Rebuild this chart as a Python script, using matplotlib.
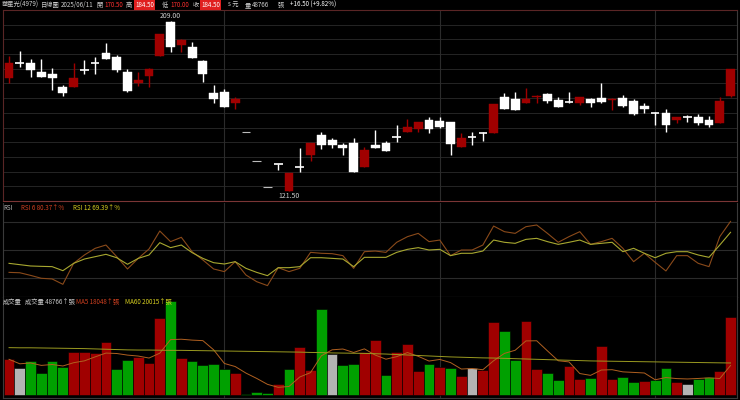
import numpy as np
import matplotlib
matplotlib.use("Agg")
import matplotlib.pyplot as plt

plt.rcParams['font.family'] = ['Noto Sans CJK TC', 'DejaVu Sans']

opens = [179.7,187.4,187.4,182.7,181.7,175.0,175.0,183.8,187.4,192.5,190.5,182.7,177.1,180.7,191.0,208.5,196.6,195.6,188.4,171.9,172.5,166.8,
         151.9,136.9,123.6,135.4,121.5,133.9,140.0,150.3,147.7,145.2,146.2,133.9,145.2,146.2,149.3,151.9,153.4,158.0,157.5,157.0,144.1,149.3,151.4,
         151.4,169.9,168.9,166.8,169.9,171.4,168.3,167.3,166.8,168.9,169.4,168.3,169.4,167.8,165.3,161.6,161.6,158.1,159.6,159.6,158.0,156.5,170.5]
highs = [191.0,193.6,189.4,189.4,184.8,176.1,187.4,188.9,190.5,197.7,191.5,184.3,182.7,184.8,202.3,209.0,199.7,198.2,188.9,176.1,174.0,169.9,
         151.9,136.9,123.6,135.4,130.8,143.6,146.2,151.9,148.8,146.2,148.8,144.1,152.9,147.2,155.5,158.6,157.0,159.6,159.6,157.0,151.4,151.9,151.9,
         166.3,171.9,172.5,174.5,170.9,171.9,169.9,172.5,169.9,169.4,177.1,169.4,170.9,168.9,166.8,162.2,163.7,159.6,160.6,161.1,160.1,169.9,184.5]
lows = [177.1,185.3,180.2,180.2,173.5,170.4,175.0,181.7,181.7,189.4,182.7,172.5,175.5,175.0,191.0,193.0,193.0,190.0,177.6,166.8,164.7,163.7,
        151.9,136.9,123.6,132.3,121.5,131.3,136.9,143.1,143.6,140.0,131.3,133.9,143.6,142.1,146.7,151.9,151.9,151.4,153.9,140.0,144.1,145.2,147.0,
        151.4,163.7,163.2,166.8,166.8,166.8,164.7,166.8,165.8,164.7,166.8,163.2,164.7,160.6,161.6,155.5,151.9,156.5,157.0,155.5,154.4,156.5,170.0]
closes = [187.4,187.4,183.8,180.2,179.7,171.9,179.7,183.8,187.4,189.4,183.8,173.0,178.6,184.3,202.3,195.6,199.2,190.0,181.7,168.9,164.7,168.9,
          151.9,136.9,123.6,135.4,130.8,133.9,146.2,145.2,145.2,143.6,131.3,142.6,143.6,142.1,149.3,154.4,157.0,153.4,154.4,145.7,148.8,149.3,151.4,
          166.3,163.7,163.2,168.9,170.4,167.8,164.7,167.3,169.9,166.8,167.3,168.9,165.3,161.1,163.7,161.6,155.5,159.6,159.6,156.5,155.5,168.0,184.5]
volumes = [22300,16700,21100,13900,21300,17700,26900,26900,26400,33100,16400,21900,23900,20200,48300,58800,23100,21100,18600,19600,16100,13600,
           600,1900,1100,6700,16400,30200,15600,53600,25400,18900,19400,26900,34200,12500,26900,32100,15200,19400,17500,17100,11900,16900,15600,
           45600,40000,21700,46100,16100,13900,9200,18100,9800,10400,30600,10200,11300,8100,8600,9400,17100,8100,6900,10200,11300,15000,48766]
vol_dir = "RNGGGGRRRRGGRRRGRGGGGRGGGRGRRGNGGRRGRRRGRGRNRRGGRRGGRRGRRGGRGGRNGGRR"
ma60 = [29600,29500,29500,29400,29300,29200,29100,29000,28800,28600,28400,28200,28100,28100,28000,27900,27900,27800,27700,27600,27500,27400,
        27300,27200,27100,27000,26900,26800,26600,26500,26300,26200,26100,26000,25800,25600,25300,25000,24700,24400,24100,23800,23600,23400,23200,
        23100,22900,22700,22500,22300,22100,21900,21700,21500,21300,21200,21100,21000,20900,20800,20700,20600,20500,20400,20300,20200,20100,20015]
rsi6 = [26.2,25.8,23.0,19.9,19.2,13.5,35.8,44.7,51.8,55.3,42.9,29.8,41.1,51.1,70.2,58.9,63.5,48.2,39.4,29.8,27.0,37.6,23.4,16.3,12.1,31.2,27.0,
        30.5,47.5,46.5,46.1,44.0,30.5,48.2,48.9,47.5,58.2,64.2,67.7,58.9,60.6,44.0,50.0,50.0,55.3,75.5,69.5,67.7,74.8,76.6,67.7,58.2,64.2,69.5,
        56.0,58.9,62.4,51.8,37.6,46.5,36.9,27.7,44.0,44.0,35.8,32.3,64.2,80.4]
rsi12 = [35.8,34.4,33.0,32.6,32.3,28.0,35.8,40.4,42.9,45.4,41.8,34.8,41.1,44.7,57.8,52.5,55.3,47.2,41.1,36.5,35.1,37.6,30.5,26.2,22.7,31.2,31.2,
         32.3,41.8,41.8,41.1,40.4,32.3,42.2,42.2,42.2,47.5,50.7,52.5,50.0,50.7,44.0,46.5,46.5,48.9,60.6,58.2,57.1,61.3,62.4,58.9,56.0,58.2,60.6,
         56.0,57.1,58.2,48.2,51.8,46.5,41.8,46.5,48.2,48.2,44.7,42.2,55.3,68.8]

n = len(closes)
x = np.arange(n)
RED = '#a00000'
GRN = '#00a000'
GRID = '#2b2b2b'
FS = 4.5

fig = plt.figure(figsize=(7.4, 4.0), dpi=100, facecolor='black')
L, W = 3/740, 734/740
axp = fig.add_axes([L, 199/400, W, 191/400])
axr = fig.add_axes([L, 103/400, W, 94/400])
axv = fig.add_axes([L, 2/400, W, 101/400])
for ax in (axp, axr, axv):
    ax.set_facecolor('black')
    ax.set_xlim(-0.56, 67.6)
    ax.set_xticks([]); ax.set_yticks([])
    for s in ax.spines.values():
        s.set_color('#3a3a3a'); s.set_linewidth(0.8)
    for v in (20, 40, 60):
        ax.axvline(v, color=GRID, lw=0.8, zorder=0)
axp.spines['top'].set_color('#5a2525')
axp.spines['bottom'].set_color('#7a3535')
axp.spines['left'].set_color('#5a2525')
axr.spines['top'].set_visible(False)
axr.spines['bottom'].set_color('#666666')
axv.spines['top'].set_visible(False)

# price panel
axp.set_ylim(116.35, 214.7)
for g in np.linspace(116.35, 214.7, 14)[1:-1]:
    axp.axhline(g, color=GRID, lw=0.6, zorder=0)
for i in range(n):
    o, h, l, c = opens[i], highs[i], lows[i], closes[i]
    if h == l:
        axp.hlines(c, i-0.4, i+0.4, color='#bbbbbb', lw=0.8)
        continue
    col = RED if c > o else 'white'
    axp.vlines(i, l, h, color=col, lw=1.0, zorder=2)
    if abs(c - o) < 0.3:
        axp.hlines(c, i-0.4, i+0.4, color=col, lw=1.2, zorder=3)
    else:
        axp.bar(i, abs(c-o), bottom=min(o, c), width=0.82, color=col, edgecolor=col, lw=0.3, zorder=3)
imax = int(np.argmax(highs)); imin = int(np.argmin(lows))
axp.text(imax, highs[imax]+0.6, f"{highs[imax]:.2f}", color='#cccccc', fontsize=5, ha='center', va='bottom')
axp.text(imin, lows[imin]-0.6, f"{lows[imin]:.2f}", color='#cccccc', fontsize=5, ha='center', va='top')

# RSI panel
axr.set_ylim(0, 100)
for g in (20, 50, 80):
    axr.axhline(g, color=GRID, lw=0.8, zorder=0)
axr.plot(x, rsi6, color='#8a4a1a', lw=0.8)
axr.plot(x, rsi12, color='#a8a830', lw=0.8)
def pt(ax, px, s, col):
    ax.text(px/734, 0.99, s, transform=ax.transAxes, color=col, fontsize=FS, va='top', zorder=5)
pt(axr, 0, "RSI", '#bbbbbb')
pt(axr, 18, "RSI 6 80.37↑%", '#d04020')
pt(axr, 70, "RSI 12 69.39↑%", '#d8d020')

# volume panel
axv.set_ylim(-1875, 61250)
cmap = {'R': RED, 'G': GRN, 'N': '#b4b4b4'}
axv.bar(x, volumes, width=1.0, color=[cmap[d] for d in vol_dir], edgecolor='black', lw=0.4, zorder=2)
vs = np.array(volumes, float)
ma5 = [vs[max(0, i-4):i+1].mean() for i in range(n)]
axv.plot(x, ma5, color='#b06020', lw=0.7, zorder=3)
axv.plot(x, ma60, color='#9a9a20', lw=0.7, zorder=3)
pt(axv, 0, "成交量", '#cccccc')
pt(axv, 22, f"成交量 {volumes[-1]}↑張", '#cccccc')
pt(axv, 73, "MA5 18048↑張", '#d04020')
pt(axv, 122, f"MA60 {ma60[-1]}↑張", '#d8d020')

# header
Y = 1 - 5/400
def t(px, s, col='#cccccc', box=None):
    kw = dict(color=col, fontsize=FS, va='center', ha='left')
    if box:
        kw['bbox'] = dict(facecolor=box, edgecolor='none', pad=0.5)
    fig.text(px/740, Y, s, **kw)
t(2, "華星光(4979)")
t(41, "日線圖")
t(61, "2025/06/11")
t(96, "開")
t(104, f"{opens[-1]:.2f}", '#ff3030')
t(126, "高")
t(135, f"{highs[-1]:.2f}", 'white', '#e02020')
t(162, "低")
t(170, f"{lows[-1]:.2f}", '#ff3030')
t(193, "收")
t(201, f"{closes[-1]:.2f}", 'white', '#e02020')
t(228, "s 元")
t(245, "量")
t(252, f"{volumes[-1]}")
t(278, "張")
t(290, f"+{closes[-1]-closes[-2]:.2f} (+{(closes[-1]/closes[-2]-1)*100:.2f}%)", 'white')

fig.savefig("out.png", dpi=100, facecolor='black')
